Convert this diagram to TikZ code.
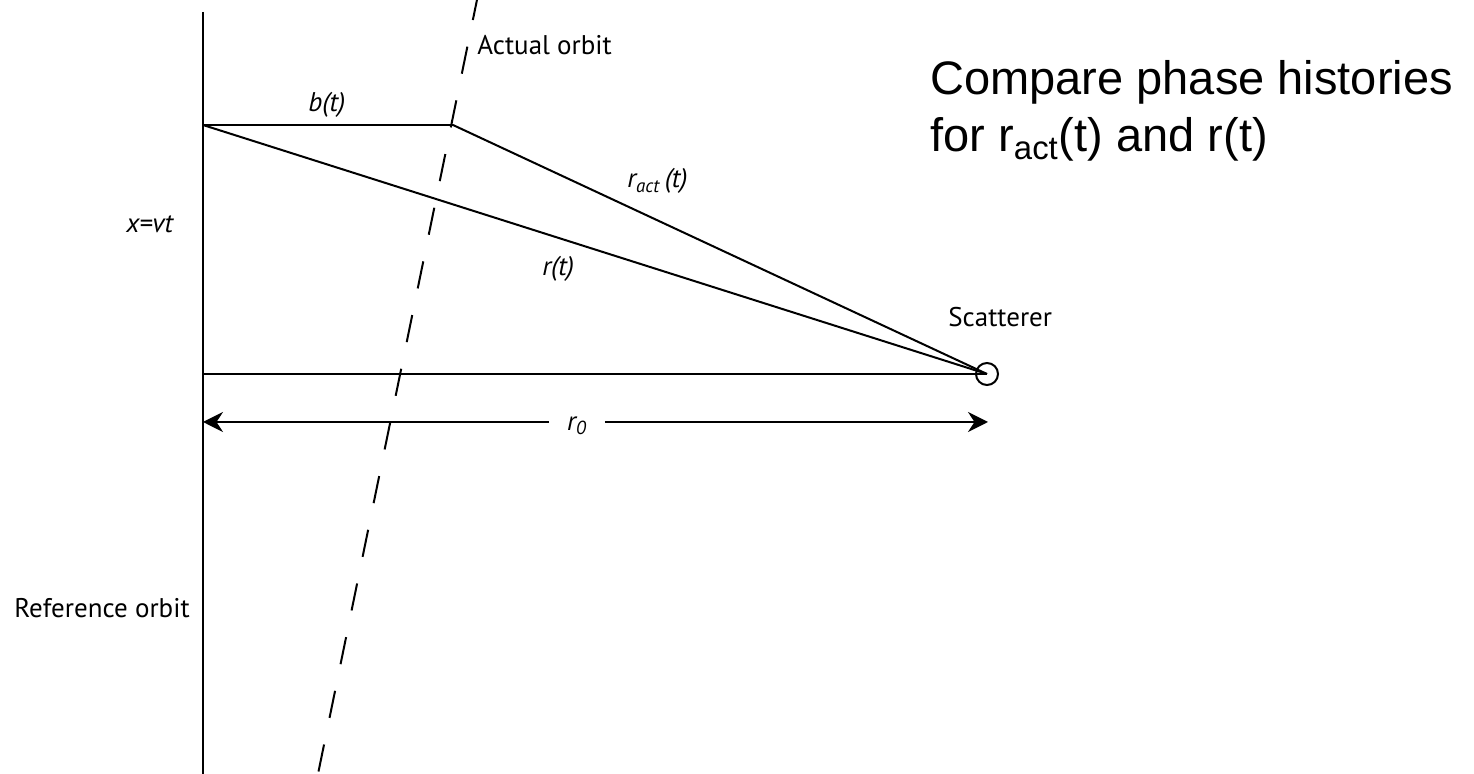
\documentclass[tikz,border=0pt]{standalone}
\usepackage{fontspec}
\setmainfont{Liberation Sans}
\newfontfamily\orbitfont{PT Sans}
\usepackage{tikz}
\usetikzlibrary{arrows.meta}
\tikzset{
  geom/.style={line width=1pt, draw=black},
  every node/.style={anchor=base west, inner sep=0pt}
}

\begin{document}
\begin{tikzpicture}[
    x=0.5pt, y=-0.5pt,
    lbl/.style={font=\orbitfont\fontsize{13.5}{16}\selectfont},
    ilbl/.style={font=\orbitfont\itshape\fontsize{13.5}{16}\selectfont},
    big/.style={font=\fontsize{23.5}{28}\selectfont},
    dim/.style={-{Stealth[length=10pt,width=10pt]}, line width=1pt},
    track/.style={line width=1pt, dash pattern=on 13.8pt off 13.6pt}
  ]
  \useasboundingbox (0,0) rectangle (1474,774);

  % geometry points
  \coordinate (reftop) at (203,12);
  \coordinate (refbot) at (203,774);
  \coordinate (xnow)   at (203,125);
  \coordinate (xact)   at (453,125);
  \coordinate (xzero)  at (203,374);
  \coordinate (acttop) at (478.4,-7);
  \coordinate (actbot) at (318,774);
  \coordinate (dimL)   at (203,422);
  \coordinate (dimR)   at (988,422);
  \node[draw, circle, line width=1pt, minimum size=11pt, anchor=center] (scat) at (987,374) {};

  % labels
  \node[lbl]  (actlbl) at (477,55)  {Actual orbit};
  \node[ilbl] (blbl)   at (308,112) {b(t)};
  \node[ilbl] (ractlbl) at (627,188) {r\textsubscript{act}\,(t)};
  \node[ilbl] (rlbl)   at (542,276) {r(t)};
  \node[ilbl] (xlbl)   at (126,233) {x=vt};
  \node[lbl]  (scatlbl) at (948,327) {Scatterer};
  \node[lbl]  (reflbl) at (14,618)  {Reference orbit};
  \node[ilbl, anchor=center, minimum width=27.5pt] (rzero) at (577,426) {r\textsubscript{0}};
  \node[big]  (cmp1)   at (930,95)  {Compare phase histories};
  \node[big]  (cmp2)   at (930,152) {for r\textsubscript{act}(t) and r(t)};

  % orbits and ranges
  \draw[geom] (reftop) -- (refbot);
  \draw[track] (acttop) -- (actbot);
  \draw[geom] (xnow) -- (xact);
  \draw[geom] (xnow) -- (scat.center);
  \draw[geom] (xact) -- (scat.center);
  \draw[geom] (xzero) -- (scat.center);

  % r0 dimension
  \draw[dim] (rzero.west |- dimL) -- (dimL);
  \draw[dim] (rzero.east |- dimR) -- (dimR);
\end{tikzpicture}
\end{document}
